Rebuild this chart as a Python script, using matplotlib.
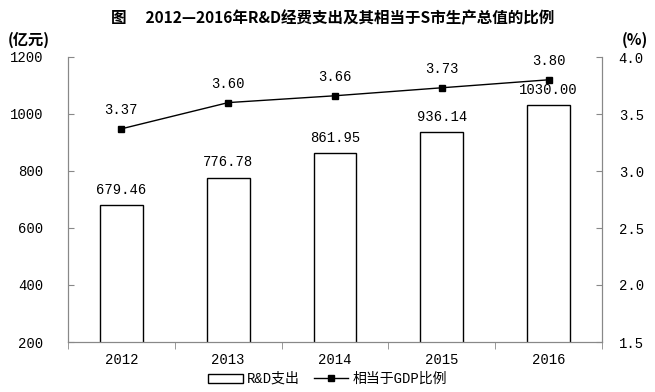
import matplotlib.pyplot as plt
import numpy as np

plt.rcParams['font.family'] = ['Liberation Mono', 'Noto Sans CJK SC', 'DejaVu Sans']

years = ['2012', '2013', '2014', '2015', '2016']
rd_spend = [679.46, 776.78, 861.95, 936.14, 1030.00]
gdp_ratio = [3.37, 3.60, 3.66, 3.73, 3.80]

fig = plt.figure(figsize=(6.55, 3.92), dpi=100)
ax = fig.add_axes([68 / 655, 1 - 342 / 392, 534 / 655, 285 / 392])
ax2 = ax.twinx()

x = np.arange(len(years))
bars = ax.bar(x, rd_spend, width=0.4, bottom=0, color='white', edgecolor='black',
              linewidth=1.0, label='R&D支出', zorder=2)
ax.set_ylim(200, 1200)
ax.set_xlim(-0.5, 4.5)
ax.set_yticks(range(200, 1201, 200))
ax.set_xticks(x)
ax.set_xticklabels(years)
ax.set_xticks(np.arange(-0.5, 5, 1), minor=True)
ax.tick_params(axis='x', which='major', length=0, pad=8, labelsize=10)
ax.tick_params(axis='x', which='minor', length=5, color='#888888', direction='out')
ax.tick_params(axis='y', length=4, direction='in', color='#888888', labelsize=10, pad=18)

for xi, v in zip(x, rd_spend):
    ax.text(xi, v + 30, f'{v:.2f}', ha='center', va='bottom', fontsize=10)

line, = ax2.plot(x, gdp_ratio, color='black', marker='s', markersize=5, linewidth=1.0,
                 label='相当于GDP比例', zorder=3)
ax2.set_ylim(1.5, 4.0)
ax2.set_yticks(np.arange(1.5, 4.01, 0.5))
ax2.set_yticklabels([f'{t:.1f}' for t in np.arange(1.5, 4.01, 0.5)])
ax2.tick_params(axis='y', length=4, direction='in', color='#888888', labelsize=10, pad=12)

for xi, v in zip(x, gdp_ratio):
    ax2.text(xi, v + 0.1, f'{v:.2f}', ha='center', va='bottom', fontsize=10)

for a in (ax, ax2):
    a.spines['top'].set_visible(False)
    for s in ('left', 'right', 'bottom'):
        a.spines[s].set_color('#888888')

fig.text(333 / 655, 1 - 18 / 392, '图　 2012—2016年R&D经费支出及其相当于S市生产总值的比例',
         ha='center', va='center', fontsize=11.2, fontweight='bold',
         family=['Noto Sans CJK SC', 'DejaVu Sans'])
fig.text(8 / 655, 1 - 40 / 392, '(亿元)', ha='left', va='center', fontsize=11,
         fontweight='bold', family=['Noto Sans CJK SC', 'DejaVu Sans'])
fig.text(648 / 655, 1 - 40 / 392, '(%)', ha='right', va='center', fontsize=11,
         fontweight='bold', family=['Noto Sans CJK SC', 'DejaVu Sans'])

fig.legend([bars, line], ['R&D支出', '相当于GDP比例'], loc='center',
           bbox_to_anchor=(0.5, 1 - 379 / 392), ncol=2, frameon=False, fontsize=10,
           handlelength=2.5, handleheight=0.6, columnspacing=1.0, handletextpad=0.3)

fig.savefig('out.png', dpi=100)
